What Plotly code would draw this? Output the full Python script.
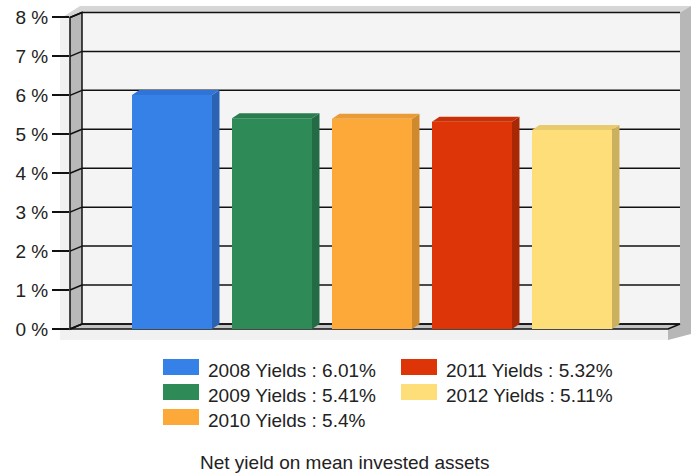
import plotly.graph_objects as go

# ---------------- data ----------------
years = ["2008", "2009", "2010", "2011", "2012"]
yields = [6.01, 5.41, 5.4, 5.32, 5.11]
tick_values = [0, 1, 2, 3, 4, 5, 6, 7, 8]
tick_labels = ["0 %", "1 %", "2 %", "3 %", "4 %", "5 %", "6 %", "7 %", "8 %"]
title_text = "Net yield on mean invested assets"

# ---------------- styles ----------------
front_colors = ["#3581E8", "#2E8A57", "#FDA93A", "#DD3508", "#FDDE78"]
side_colors = ["#2A62B4", "#236B44", "#CF8A2D", "#A82806", "#CBB05E"]
top_colors = ["#2F74D6", "#2A7D4F", "#E99C35", "#C93007", "#E8CB6C"]
FONT = "Liberation Sans, Arial, sans-serif"
TXT = "#222222"

# ---------------- geometry (pixels) ----------------
W_FIG, H_FIG = 700, 474
L, R, T, B = 70, 691, 6, 340          # plot area
PW, PH = R - L, B - T
Y0 = 329.0                            # pixel of 0 % on front plane
PPU = 38.94                           # pixels per 1 %
X0, STEP = 172.0, 100.0               # center of first bar, spacing
WALL_DX, WALL_DY = 12.0, 5.0          # wall depth
BAR_DX, BAR_DY = 7.5, 5.0             # bar depth


def X(px):
    return (px - L) / PW


def Y(py):
    return (B - py) / PH


def path(points):
    return "M " + " L ".join(f"{X(a):.5f},{Y(b):.5f}" for a, b in points) + " Z"


def yf(v):
    return Y0 - PPU * v


def yb(v):
    return yf(v) - WALL_DY


x_range = [(L - X0) / STEP, (R - X0) / STEP]
y_range = [(Y0 - B) / PPU, (Y0 - T) / PPU]

shapes = []


def poly(points, fill, line_color=None, width=0):
    shapes.append(dict(type="path", xref="paper", yref="paper", path=path(points),
                       fillcolor=fill, layer="below",
                       line=dict(color=line_color or fill, width=width)))


def seg(p1, p2, color="#111111", width=1.5):
    shapes.append(dict(type="line", xref="paper", yref="paper", layer="below",
                       x0=X(p1[0]), y0=Y(p1[1]), x1=X(p2[0]), y1=Y(p2[1]),
                       line=dict(color=color, width=width)))


top_v = tick_values[-1]
xb_l, xb_r = L + WALL_DX, 680.0
xf_r = xb_r - WALL_DX

# light backdrop (left strip / floor slab front)
poly([(60, yf(top_v)), (xf_r, yf(top_v)), (xf_r, B), (60, B)], "#F1F1F1")
# top slab
poly([(62, yf(top_v)), (xb_l - 2, T), (R, T), (xb_r, yb(top_v)), (xb_l, yb(top_v)), (L, yf(top_v))], "#D6D6D6")
# right slab
poly([(xb_r, yb(top_v)), (R, T), (R, B - 6), (xf_r, B), (xf_r, yf(0)), (xb_r, yb(0))], "#B7B7B7")
# back wall
poly([(xb_l, yb(top_v)), (xb_r, yb(top_v)), (xb_r, yb(0)), (xb_l, yb(0))], "#F4F4F4")
# floor
poly([(L, yf(0)), (xb_l, yb(0)), (xb_r, yb(0)), (xf_r, yf(0))], "#C4C4C4", "#111111", 1.5)
# left wall
poly([(L, yf(top_v)), (xb_l, yb(top_v)), (xb_l, yb(0)), (L, yf(0))], "#B9B9B9", "#111111", 1.5)
# grid lines on back wall + diagonals on left wall
for v in tick_values:
    seg((xb_l, yb(v)), (xb_r, yb(v)))
    seg((L, yf(v)), (xb_l, yb(v)))

fig = go.Figure()

xs = list(range(len(years)))
fig.add_trace(go.Bar(x=xs, y=yields, width=0.8, marker=dict(color=front_colors, line=dict(width=0)),
                     showlegend=False, hoverinfo="skip"))

ddx = BAR_DX / STEP
ddy = BAR_DY / PPU
for i, v in enumerate(yields):
    xl, xr = i - 0.4, i + 0.4
    fig.add_trace(go.Scatter(x=[xr, xr + ddx, xr + ddx, xr, xr], y=[0, ddy, v + ddy, v, 0],
                             fill="toself", fillcolor=side_colors[i], mode="lines",
                             line=dict(width=0, color=side_colors[i]), showlegend=False, hoverinfo="skip"))
    fig.add_trace(go.Scatter(x=[xl, xl + ddx, xr + ddx, xr, xl], y=[v, v + ddy, v + ddy, v, v],
                             fill="toself", fillcolor=top_colors[i], mode="lines",
                             line=dict(width=0, color=top_colors[i]), showlegend=False, hoverinfo="skip"))

# manual legend (column-major, 3 rows)
annotations = []
col_x = [163, 401]
row_y = [367, 392, 417]
for i, (yr, v) in enumerate(zip(years, yields)):
    c, r = divmod(i, 3)
    sx, sy = col_x[c], row_y[r]
    shapes.append(dict(type="rect", xref="paper", yref="paper", layer="above",
                       x0=X(sx), x1=X(sx + 36), y0=Y(sy + 8), y1=Y(sy - 8),
                       fillcolor=front_colors[i], line=dict(width=0)))
    annotations.append(dict(xref="paper", yref="paper", x=X(sx + 43), y=Y(sy + 3),
                            xanchor="left", yanchor="middle", showarrow=False,
                            text=f"{yr} Yields : {v}%", font=dict(family=FONT, size=19, color=TXT)))

annotations.append(dict(xref="paper", yref="paper", x=X(344), y=Y(462), xanchor="center",
                        yanchor="middle", showarrow=False, text=title_text,
                        font=dict(family=FONT, size=19, color=TXT)))

fig.update_layout(
    width=W_FIG, height=H_FIG,
    margin=dict(l=L, r=W_FIG - R, t=T, b=H_FIG - B, pad=0),
    paper_bgcolor="white", plot_bgcolor="rgba(0,0,0,0)",
    shapes=shapes, annotations=annotations,
    xaxis=dict(range=x_range, visible=False, fixedrange=True),
    yaxis=dict(range=y_range, tickmode="array", tickvals=tick_values, ticktext=tick_labels,
               showgrid=False, zeroline=False, showline=False,
               ticks="outside", ticklen=17, tickwidth=1.5, tickcolor="#111111",
               tickfont=dict(family=FONT, size=19, color=TXT), fixedrange=True),
    showlegend=False,
)

fig.write_html("out.html", config={"displayModeBar": False},
               post_script="document.body.style.margin='0';document.body.style.padding='0';")
